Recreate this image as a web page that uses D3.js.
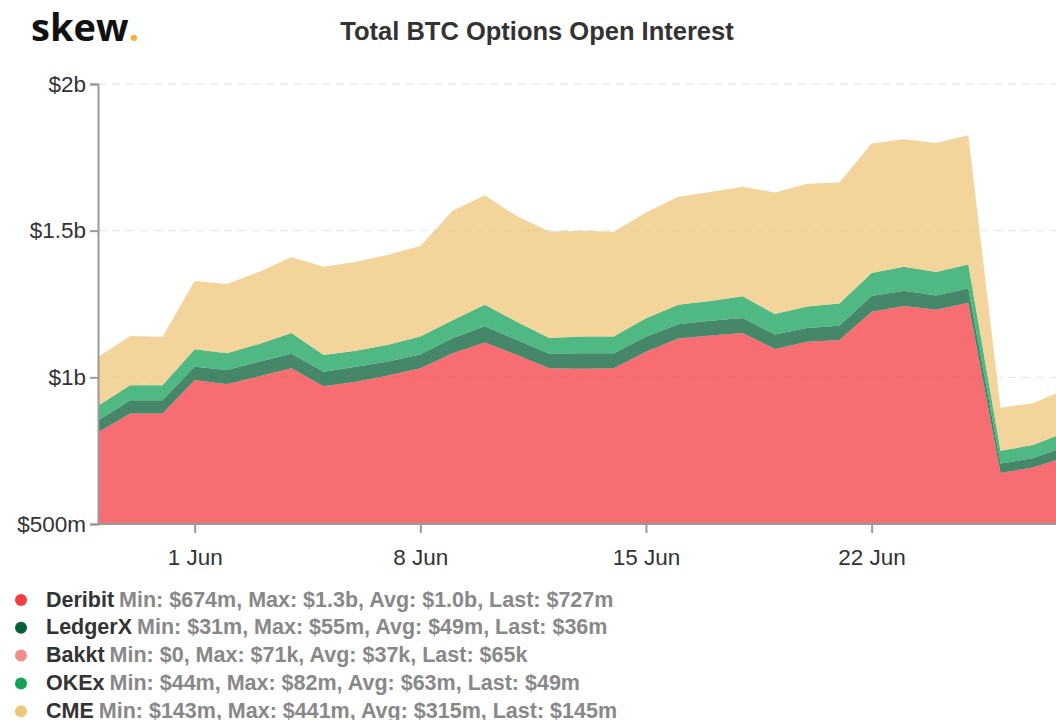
<!DOCTYPE html>
<html>
<head>
<meta charset="utf-8">
<script src="https://cdn.jsdelivr.net/npm/d3@7"></script>
<style>
  html, body { margin: 0; padding: 0; background: #fff; }
  svg { display: block; font-family: "Liberation Sans", Arial, sans-serif; }
</style>
</head>
<body>
<svg id="chart" width="1056" height="720"></svg>
<script>
// ---- data (values in $ millions) ----
const dates = ["2020-05-29","2020-05-30","2020-05-31","2020-06-01","2020-06-02","2020-06-03","2020-06-04",
  "2020-06-05","2020-06-06","2020-06-07","2020-06-08","2020-06-09","2020-06-10","2020-06-11","2020-06-12",
  "2020-06-13","2020-06-14","2020-06-15","2020-06-16","2020-06-17","2020-06-18","2020-06-19","2020-06-20",
  "2020-06-21","2020-06-22","2020-06-23","2020-06-24","2020-06-25","2020-06-26","2020-06-27","2020-06-28"];
const deribit = [813,877,877,991,976,1004,1031,970,985,1006,1031,1082,1119,1076,1031,1029,1031,1087,1132,1143,1151,1097,1121,1127,1224,1243,1230,1254,674,693,727];
const ledgerx = [40,45,45,45,49,49,49,49,51,48,47,51,55,51,49,53,51,51,49,50,51,49,47,49,53,52,49,49,32,31,36];
const bakkt   = [0,0,0,0,0,0,0,0,0,0,0,0.012,0.02,0.025,0.03,0.03,0.035,0.04,0.045,0.05,0.05,0.055,0.06,0.06,0.065,0.07,0.071,0.07,0.06,0.062,0.065];
const okex    = [50,51,51,60,57,61,71,57,55,57,61,62,73,62,54,57,57,63,66,67,74,70,73,76,79,82,80,82,44,45,49];
const cme     = [166,168,165,232,236,246,258,301,303,307,309,373,374,360,363,361,357,361,369,372,374,414,419,412,441,435,440,440,146,143,145];

const seriesNames = ["Deribit","LedgerX","Bakkt","OKEx","CME"];
const seriesColors = ["#f43e43","#085f38","#f58c8c","#16a25a","#efc77a"];
const legendStats = [
  "Min: $674m, Max: $1.3b, Avg: $1.0b, Last: $727m",
  "Min: $31m, Max: $55m, Avg: $49m, Last: $36m",
  "Min: $0, Max: $71k, Avg: $37k, Last: $65k",
  "Min: $44m, Max: $82m, Avg: $63m, Last: $49m",
  "Min: $143m, Max: $441m, Avg: $315m, Last: $145m"
];
const yTicks = [500, 1000, 1500, 2000];
const yTickLabels = ["$500m", "$1b", "$1.5b", "$2b"];
const xTickDates = ["2020-06-01","2020-06-08","2020-06-15","2020-06-22"];
const titleText = "Total BTC Options Open Interest";

// ---- build ----
const parse = d3.utcParse("%Y-%m-%d");
const seriesArrays = [deribit, ledgerx, bakkt, okex, cme];
const table = dates.map((d, i) => {
  const row = { date: parse(d) };
  seriesNames.forEach((n, k) => row[n] = seriesArrays[k][i]);
  return row;
});

const svg = d3.select("#chart");
const plotLeft = 98, plotTop = 84, plotBottom = 524;

const x = d3.scaleUtc()
  .domain([parse(dates[0]), parse(dates[dates.length - 1])])
  .range([plotLeft, 1065]);
const y = d3.scaleLinear().domain([500, 2000]).range([plotBottom, plotTop]);

// grid
svg.append("g").selectAll("line")
  .data(yTicks.slice(1))
  .join("line")
  .attr("x1", plotLeft).attr("x2", 1056)
  .attr("y1", d => y(d)).attr("y2", d => y(d))
  .attr("stroke", "#e3e3e3").attr("stroke-width", 1)
  .attr("stroke-dasharray", "8,6");

// stacked areas
const stack = d3.stack().keys(seriesNames);
const layers = stack(table);
const area = d3.area()
  .x(d => x(d.data.date))
  .y0(d => y(Math.max(d[0], 500)))
  .y1(d => y(d[1]));

svg.append("clipPath").attr("id", "plotclip")
  .append("rect").attr("x", plotLeft).attr("y", 0).attr("width", 1056 - plotLeft).attr("height", plotBottom);

svg.append("g").attr("clip-path", "url(#plotclip)")
  .selectAll("path")
  .data(layers)
  .join("path")
  .attr("d", d => {
    if (d.index === 0) {
      return d3.area().x(p => x(p.data.date)).y0(plotBottom).y1(p => y(p[1]))(d);
    }
    return area(d);
  })
  .attr("fill", (d, i) => seriesColors[i])
  .attr("fill-opacity", 0.75)
  .attr("stroke", "none");

// y axis
const yAxis = d3.axisLeft(y)
  .tickValues(yTicks)
  .tickFormat((d, i) => yTickLabels[i])
  .tickSize(8)
  .tickPadding(4);
const gy = svg.append("g").attr("transform", `translate(${plotLeft},0)`).call(yAxis);
gy.select(".domain").attr("stroke", "#9a9a9a").attr("stroke-width", 2);
gy.selectAll(".tick line").attr("stroke", "#9a9a9a").attr("stroke-width", 2);
gy.selectAll(".tick text").attr("fill", "#333").attr("font-size", 22.5)
  .attr("font-family", "'Liberation Sans', Arial, sans-serif");

// x axis
const xAxis = d3.axisBottom(x)
  .tickValues(xTickDates.map(parse))
  .tickFormat(d3.utcFormat("%-d %b"))
  .tickSize(9)
  .tickPadding(16);
const gx = svg.append("g").attr("transform", `translate(0,${plotBottom})`).call(xAxis);
gx.select(".domain").attr("stroke", "#9a9a9a").attr("stroke-width", 2)
  .attr("d", `M${plotLeft},0H1056`);
gx.selectAll(".tick line").attr("stroke", "#9a9a9a").attr("stroke-width", 2);
gx.selectAll(".tick text").attr("fill", "#333").attr("font-size", 22.5)
  .attr("font-family", "'Liberation Sans', Arial, sans-serif");

// title
svg.append("text")
  .attr("x", 537).attr("y", 39.5)
  .attr("text-anchor", "middle")
  .attr("font-size", 25.5).attr("font-weight", "bold")
  .attr("fill", "#333")
  .text(titleText);

// logo
const logo = svg.append("text")
  .attr("x", 31).attr("y", 41)
  .attr("font-family", "'Open Sans', sans-serif")
  .attr("font-size", 38).attr("font-weight", 700)
  .attr("fill", "#111");
logo.append("tspan").text("skew");
logo.append("tspan").attr("fill", "#f2b33d").text(".");

// legend
const lg = svg.append("g");
const rows = lg.selectAll("g").data(seriesNames).join("g")
  .attr("transform", (d, i) => `translate(0,${599 + i * 27.8})`);
rows.append("circle").attr("cx", 21).attr("cy", 1).attr("r", 6)
  .attr("fill", (d, i) => seriesColors[i]);
const t = rows.append("text").attr("x", 46).attr("y", 7.5)
  .attr("font-size", 21.5).attr("font-weight", "bold");
t.append("tspan").attr("fill", "#333").text(d => d);
t.append("tspan").attr("fill", "#888").attr("dx", 5).text((d, i) => legendStats[i]);
</script>
</body>
</html>
